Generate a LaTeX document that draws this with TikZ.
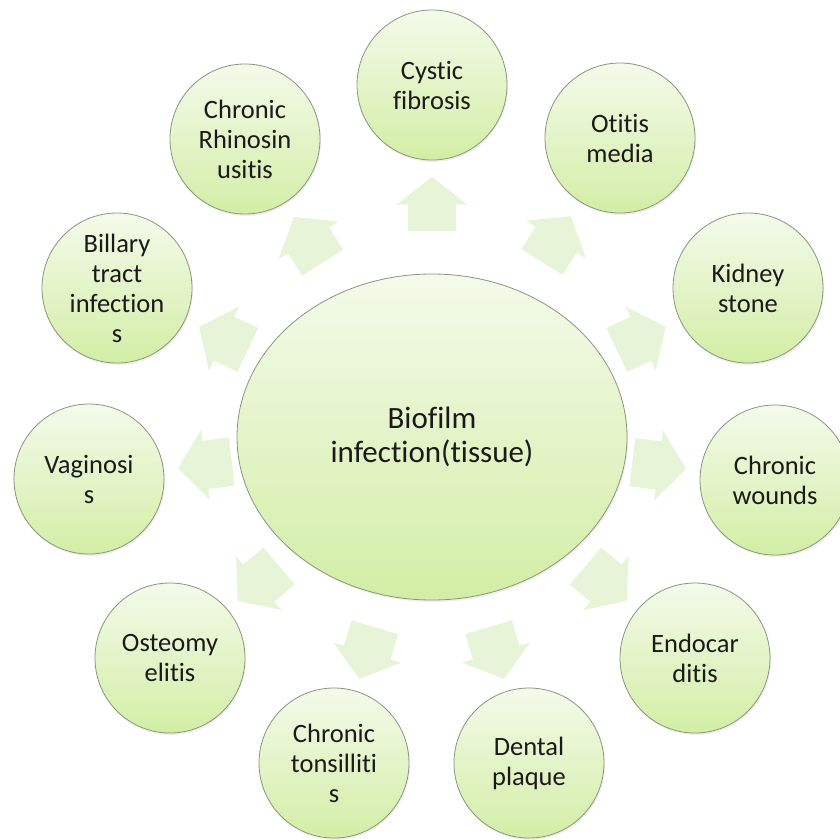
\documentclass[tikz,border=0pt]{standalone}
\usepackage{fontspec}
\setmainfont{Carlito}[Ligatures={NoCommon}]
\usetikzlibrary{shapes.geometric,shapes.arrows,shadows}
\definecolor{ctop}{HTML}{F4FAEA}
\definecolor{cbot}{HTML}{D3EEA6}
\definecolor{edgec}{HTML}{8A957E}
\definecolor{arrc}{HTML}{E7F4D7}
\definecolor{txt}{HTML}{1A1A1A}
\begin{document}
\begin{tikzpicture}[x=1pt,y=-1pt,
  disease/.style={circle, minimum size=150pt, inner sep=0pt, draw=edgec, line width=0.8pt,
    top color=ctop, bottom color=cbot, font=\fontsize{26.5}{30}\selectfont, text=txt, align=center,
    drop shadow={opacity=0.12, shadow xshift=1pt, shadow yshift=-2pt}},
  hub/.style={ellipse, minimum width=390pt, minimum height=326pt, inner sep=0pt, draw=edgec, line width=0.8pt,
    top color=ctop, bottom color=cbot, font=\fontsize{31}{34}\selectfont, text=txt, align=center,
    drop shadow={opacity=0.12, shadow xshift=1pt, shadow yshift=-2pt}},
  radarrow/.style={shape=single arrow, fill=arrc, draw=none, inner xsep=0pt, inner ysep=24pt,
    minimum height=54pt, single arrow head extend=11pt, single arrow tip angle=104,
    sloped, allow upside down, pos=0.635}]
\useasboundingbox (0,0) rectangle (840,839);
\fill[white] (0,0) rectangle (840,839);
% hub
\node[hub] (bio) at (432,437) {Biofilm\\infection(tissue)};
% outer circles
\node[disease] (cf) at (432,85)  {Cystic\\fibrosis};
\node[disease] (om) at (620,138) {Otitis\\media};
\node[disease] (ks) at (748,288) {Kidney\\stone};
\node[disease] (cw) at (775,480) {Chronic\\wounds};
\node[disease] (en) at (695,658) {Endocar\\ditis};
\node[disease] (dp) at (529,763) {Dental\\plaque};
\node[disease] (ct) at (334,763) {Chronic\\tonsilliti\\s};
\node[disease] (os) at (170,658) {Osteomy\\elitis};
\node[disease] (va) at (89,479)  {Vaginosi\\s};
\node[disease] (bi) at (117,288) {Billary\\tract\\infection\\s};
\node[disease] (cr) at (245,139) {Chronic\\Rhinosin\\usitis};
% block arrows
\foreach \t in {cf,om,ks,cw,en,dp,ct,os,va,bi,cr}{
  \path (bio.center) -- (\t.center) node[radarrow] {};
}
\end{tikzpicture}
\end{document}
